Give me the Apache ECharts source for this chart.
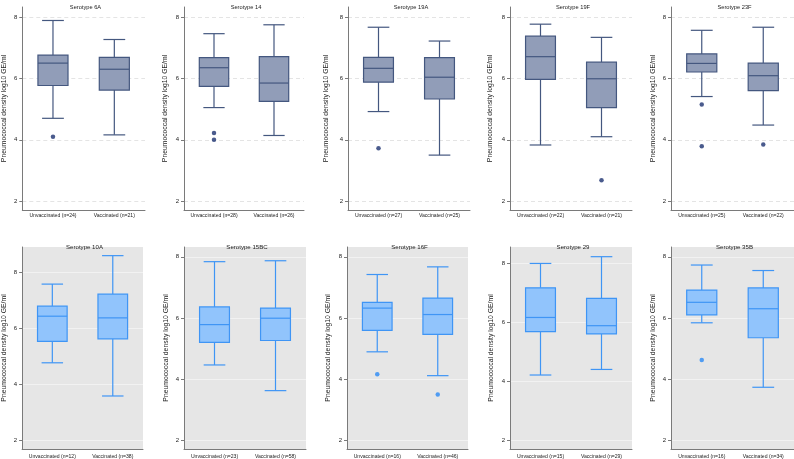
<!DOCTYPE html>
<html>
<head>
<meta charset="utf-8">
<script src="https://cdn.jsdelivr.net/npm/echarts@6/dist/echarts.min.js"></script>
<style>
html,body{margin:0;padding:0;background:#fff;}
#chart{width:794px;height:459px;}
</style>
</head>
<body>
<div id="chart"></div>
<script>
// ---- data ----
const serotypes = ['6A','14','19A','19F','23F','10A','15BC','16F','29','35B'];
const nUnvacc = [24,28,27,22,25,12,23,16,15,16];
const nVacc   = [21,26,25,21,22,38,58,46,29,34];
// [lower whisker, Q1, median, Q3, upper whisker]
const unvaccStats = [
  [4.70,5.77,6.50,6.76,7.89],
  [5.05,5.74,6.35,6.68,7.46],
  [4.92,5.88,6.33,6.69,7.67],
  [3.83,5.97,6.71,7.38,7.77],
  [5.41,6.21,6.49,6.80,7.57],
  [4.77,5.54,6.44,6.80,7.59],
  [4.46,5.20,5.78,6.36,7.84],
  [4.89,5.59,6.32,6.51,7.42],
  [4.21,5.69,6.17,7.18,8.01],
  [5.84,6.10,6.51,6.91,7.73]
];
const vaccStats = [
  [4.16,5.62,6.30,6.69,7.27],
  [4.14,5.25,5.85,6.71,7.75],
  [3.50,5.33,6.04,6.68,7.22],
  [4.10,5.05,5.99,6.53,7.34],
  [4.48,5.60,6.09,6.50,7.67],
  [3.58,5.63,6.38,7.23,8.61],
  [3.62,5.26,5.99,6.32,7.87],
  [4.11,5.46,6.11,6.65,7.67],
  [4.40,5.61,5.89,6.82,8.24],
  [3.73,5.35,6.30,6.98,7.55]
];
const unvaccOutliers = [[4.10],[4.22,4.00],[3.72],[],[5.15,3.79],[],[],[4.16],[],[4.62]];
const vaccOutliers   = [[],[],[],[2.68],[3.85],[],[],[3.49],[],[]];
const yTicks = [2,4,6,8];
const yMin = [1.71,1.71,1.71,1.71,1.71,1.68,1.71,1.71,1.69,1.71];
const yMax = [8.33,8.33,8.33,8.33,8.33,8.92,8.32,8.32,8.57,8.32];
const yName = 'Pneumococcal density log10 GE/ml';

// ---- layout ----
const gLeft  = [22,184,348,510,671, 22,184,347,510,671];
const gWidth = [123,120,122,122,123, 121,122,121,122,123];
const nameDist = [17.7,19,22,19.7,17.5, 17.5,18.2,19.2,19,17.5];

const FONT = '"Liberation Sans", Arial, sans-serif';
const chart = echarts.init(document.getElementById('chart'), null, {renderer:'canvas'});

const grids=[], xAxes=[], yAxes=[], series=[], titles=[];
for (let i=0;i<10;i++){
  const bottom = i>=5;
  const fill = bottom ? '#91c4fc' : '#919db8';
  const stroke = bottom ? '#3f95f5' : '#44577f';
  const dot = bottom ? '#2b8af5' : '#1d3270';
  grids.push({
    left:gLeft[i], width:gWidth[i], top: bottom?247:7, height: bottom?202:203,
    show: bottom, backgroundColor:'#e6e6e6', borderWidth:0
  });
  titles.push({
    text:'Serotype '+serotypes[i],
    left: gLeft[i]+gWidth[i]/2-3, top: bottom?239.5:-1,
    textAlign:'center',
    textStyle:{fontFamily:FONT, fontSize: bottom?6.1:5.7, fontWeight:'normal', color:'#222'}
  });
  xAxes.push({
    type:'category', gridIndex:i,
    data:['Unvaccinated (n='+nUnvacc[i]+')','Vaccinated (n='+nVacc[i]+')'],
    axisTick:{show:false},
    axisLine:{lineStyle:{color:'#7a7a7a', width:1}},
    axisLabel:{fontFamily:FONT, fontSize:5.1, color:'#222', margin: bottom?5:3.5, interval:0}
  });
  yAxes.push({
    type:'value', gridIndex:i, min:yMin[i], max:yMax[i],
    name:yName, nameLocation:'middle', nameGap:nameDist[i]-3.4,
    nameTextStyle:{fontFamily:FONT, fontSize:6.8, color:'#222'},
    axisLine:{show:true, lineStyle:{color:'#7a7a7a', width:1}},
    axisTick:{show:true, length:3, customValues:yTicks, lineStyle:{color:'#7a7a7a'}},
    axisLabel:{customValues:yTicks, fontFamily:FONT, fontSize:6, color:'#222', margin:5},
    splitLine:{show:true, lineStyle: bottom ? {color:'#f2f2f2', width:1} : {color:'#e4e4e4', width:1, type:[4,3]}}
  });
  series.push({
    type:'custom', xAxisIndex:i, yAxisIndex:i,
    data:[[0].concat(unvaccStats[i]), [1].concat(vaccStats[i])],
    encode:{x:0, y:[1,2,3,4,5]},
    renderItem:function(params, api){
      const x = api.value(0);
      const pLo = api.coord([x, api.value(1)]);
      const pQ1 = api.coord([x, api.value(2)]);
      const pMed = api.coord([x, api.value(3)]);
      const pQ3 = api.coord([x, api.value(4)]);
      const pHi = api.coord([x, api.value(5)]);
      const band = api.size([1,0])[0];
      const bw = band*0.49, cw = band*0.355;
      const cx = pMed[0];
      const ls = {stroke:stroke, lineWidth:1.2, fill:null};
      return {type:'group', children:[
        {type:'line', shape:{x1:cx,y1:pHi[1],x2:cx,y2:pQ3[1]}, style:ls},
        {type:'line', shape:{x1:cx,y1:pQ1[1],x2:cx,y2:pLo[1]}, style:ls},
        {type:'line', shape:{x1:cx-cw/2,y1:pHi[1],x2:cx+cw/2,y2:pHi[1]}, style:ls},
        {type:'line', shape:{x1:cx-cw/2,y1:pLo[1],x2:cx+cw/2,y2:pLo[1]}, style:ls},
        {type:'rect', shape:{x:cx-bw/2, y:pQ3[1], width:bw, height:pQ1[1]-pQ3[1]}, style:{fill:fill, stroke:stroke, lineWidth:1.2}},
        {type:'line', shape:{x1:cx-bw/2,y1:pMed[1],x2:cx+bw/2,y2:pMed[1]}, style:ls}
      ]};
    }
  });
  const outs = unvaccOutliers[i].map(v=>[0,v]).concat(vaccOutliers[i].map(v=>[1,v]));
  series.push({
    type:'scatter', xAxisIndex:i, yAxisIndex:i, data:outs,
    symbol:'circle', symbolSize:4.5, itemStyle:{color:dot}
  });
}

chart.setOption({
  animation:false,
  backgroundColor:'#fff',
  title:titles, grid:grids, xAxis:xAxes, yAxis:yAxes, series:series
});
</script>
</body>
</html>
